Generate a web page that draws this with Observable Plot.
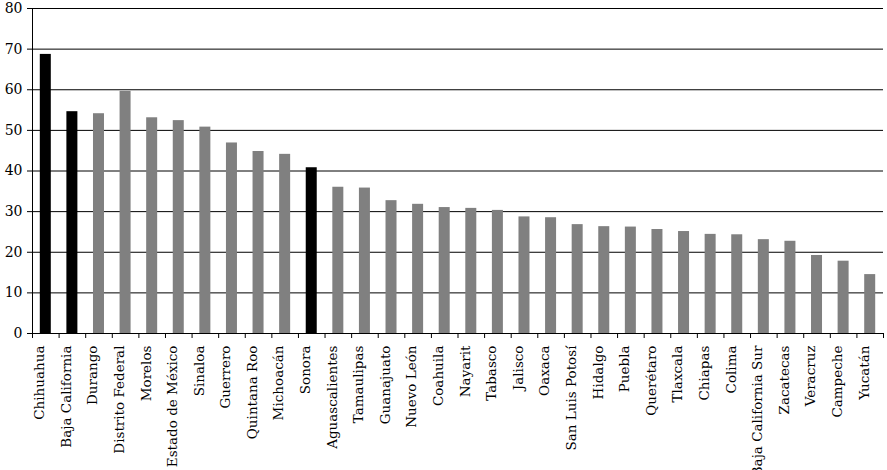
<!DOCTYPE html>
<html>
<head>
<meta charset="utf-8">
<script src="https://cdn.jsdelivr.net/npm/d3@7"></script>
<script src="https://cdn.jsdelivr.net/npm/@observablehq/plot@0.6"></script>
<style>
  html, body { margin: 0; padding: 0; background: #fff; }
  #chart svg { display: block; }
</style>
</head>
<body>
<div id="chart"></div>
<script>
const states = ["Chihuahua", "Baja California", "Durango", "Distrito Federal", "Morelos", "Estado de México", "Sinaloa", "Guerrero", "Quintana Roo", "Michoacán", "Sonora", "Aguascalientes", "Tamaulipas", "Guanajuato", "Nuevo León", "Coahuila", "Nayarit", "Tabasco", "Jalisco", "Oaxaca", "San Luis Potosí", "Hidalgo", "Puebla", "Querétaro", "Tlaxcala", "Chiapas", "Colima", "Baja California Sur", "Zacatecas", "Veracruz", "Campeche", "Yucatán"];
const values = [68.7, 54.6, 54.1, 59.6, 53.1, 52.4, 50.8, 46.9, 44.8, 44.1, 40.8, 36.0, 35.8, 32.7, 31.8, 31.0, 30.8, 30.3, 28.7, 28.5, 26.8, 26.3, 26.2, 25.6, 25.1, 24.4, 24.3, 23.1, 22.7, 19.2, 17.8, 14.5];
const highlighted = ["Chihuahua", "Baja California", "Sonora"];
const yTicks = [0, 10, 20, 30, 40, 50, 60, 70, 80];

const data = states.map((s, i) => ({state: s, value: values[i], hi: highlighted.includes(s)}));

const W = 887, H = 470, mL = 32, mR = 4, mT = 8, mB = 137;
const step = (W - mL - mR) / states.length;
const barW = 11;
const inset = (step - barW) / 2;

const chart = Plot.plot({
  width: W, height: H,
  marginLeft: mL, marginRight: mR, marginTop: mT, marginBottom: mB,
  style: {fontFamily: "'DejaVu Serif', serif", fontSize: "14px", color: "#000", background: "#fff"},
  x: {domain: states, padding: 0, round: false},
  y: {domain: [0, 80]},
  marks: [
    Plot.gridY(yTicks, {stroke: "#000", strokeOpacity: 1, strokeWidth: 1}),
    Plot.axisY(yTicks, {tickSize: 5, tickPadding: 5, fontSize: 14, label: null, stroke: "#000"}),
    Plot.barY(data.filter(d => !d.hi), {x: "state", y: "value", fill: "#808080", insetLeft: inset, insetRight: inset}),
    Plot.barY(data.filter(d => d.hi), {x: "state", y: "value", fill: "#000", insetLeft: inset, insetRight: inset}),
    Plot.frame({anchor: "left", stroke: "#000"}),
    Plot.frame({anchor: "bottom", stroke: "#000"}),
    Plot.axisX({tickSize: 5, tickFormat: () => "", dx: -step / 2, label: null}),
    Plot.axisX([states[states.length - 1]], {tickSize: 5, tickFormat: () => "", dx: step / 2, label: null}),
    Plot.axisX({tickSize: 0, tickPadding: 12, tickRotate: -90, fontSize: 13.5, dx: -6, label: null})
  ]
});
document.getElementById("chart").appendChild(chart);
</script>
</body>
</html>
